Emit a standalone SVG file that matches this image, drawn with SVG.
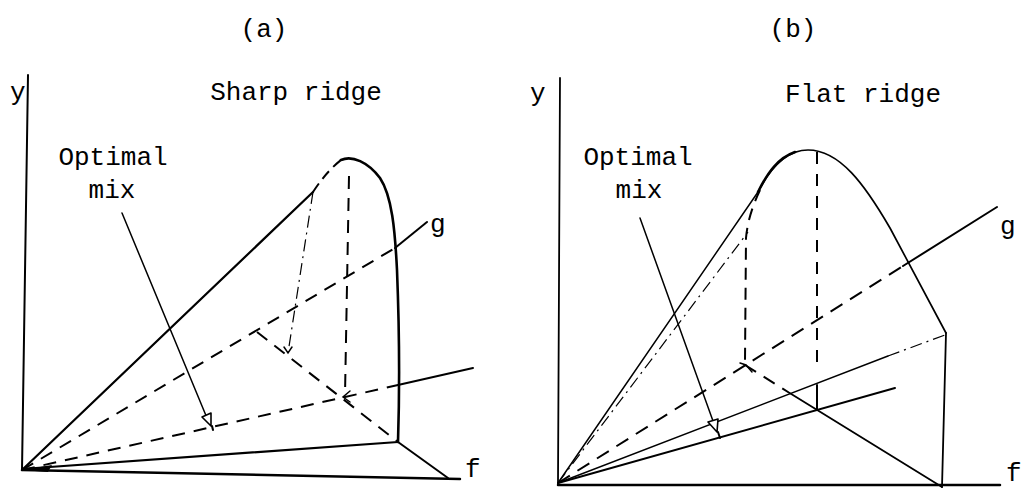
<svg xmlns="http://www.w3.org/2000/svg" width="1027" height="489" viewBox="0 0 1027 489">
<style>
text{font-family:"Liberation Mono","DejaVu Sans Mono",monospace;font-size:26px;fill:#000}
.s{fill:none;stroke:#000;stroke-width:2;stroke-linecap:round}
.t{fill:none;stroke:#000;stroke-width:1.5;stroke-linecap:round}
.d{fill:none;stroke:#000;stroke-width:2;stroke-dasharray:13 9}
.dd{fill:none;stroke:#000;stroke-width:1.2;stroke-dasharray:12 5 2 5}
.ah{fill:#fff;stroke:#000;stroke-width:1.6;stroke-linejoin:round}
</style>
<rect width="1027" height="489" fill="#fff"/>
<g id="panel-a">
  <text x="264" y="37" text-anchor="middle">(a)</text>
  <text x="296" y="100" text-anchor="middle">Sharp ridge</text>
  <text x="10" y="100">y</text>
  <text x="430" y="232">g</text>
  <text x="465" y="477">f</text>
  <g id="label-a">
    <text x="113" y="165" text-anchor="middle">Optimal</text>
    <text x="112" y="198" text-anchor="middle">mix</text>
  </g>
  <g id="axes-a">
    <path class="s" d="M28,75 L22,470"/>
    <path class="s" d="M22,470 L460,479" style="stroke-width:2.5"/>
    <polygon points="22,470 52,465 48,472" fill="#000"/>
  </g>
  <g id="surface-a">
    <path class="s" d="M22,470 L313,192" style="stroke-width:2.2"/>
    <path class="s" d="M22,469 L398,442" style="stroke-width:2.2"/>
    <path class="s" d="M398,442 L448,478"/>
    <path class="s" d="M341,160 C352,155 368,162 380,178 C392,196 395,230 397,270 C399,320 400,380 398,442" style="stroke-width:2.6"/>
    <path class="d" d="M313,192 Q326,172 341,160" style="stroke-dasharray:10 6"/>
    <path class="dd" d="M313,192 L288,353"/>
    <path class="d" d="M349,176 L345,395"/>
    <path class="d" d="M22,470 L395,248"/>
    <path class="s" d="M395,248 L427,222"/>
    <path class="d" d="M22,470 L398,385"/>
    <path class="s" d="M398,385 L473,368"/>
    <path class="d" d="M257,332 L398,442"/>
    <path class="t" d="M284,347 L288,353 L292,347"/>
    <path class="t" d="M350,391 L343,397 L350,402"/>
  </g>
  <g id="connectors-a">
    <path class="t" d="M122,213 L207,418"/>
    <polygon class="ah" points="211,426 211,413 202,417"/>
    <path class="s" d="M212,426 L213,430"/>
  </g>
</g>
<g id="panel-b">
  <text x="793" y="37" text-anchor="middle">(b)</text>
  <text x="863" y="102" text-anchor="middle">Flat ridge</text>
  <text x="530" y="101">y</text>
  <text x="1000" y="234">g</text>
  <text x="1006" y="481">f</text>
  <g id="label-b">
    <text x="638" y="165" text-anchor="middle">Optimal</text>
    <text x="639" y="198" text-anchor="middle">mix</text>
  </g>
  <g id="axes-b">
    <path class="s" d="M560,78 L558,484" style="stroke-width:1.8"/>
    <path class="s" d="M558,485 L1000,485" style="stroke-width:2.5"/>
  </g>
  <g id="surface-b">
    <path class="t" d="M558,483 L758,192"/>
    <path class="dd" d="M558,483 L748,232"/>
    <path class="t" d="M758,192 C772,165 788,150 808,150 C840,150 865,185 890,228 L946,333" style="stroke-width:1.7"/>
    <path class="s" d="M758,192 C768,172 778,158 795,152" style="stroke-width:2.6"/>
    <path class="d" d="M760,190 Q748,215 746,238 L745,362" style="stroke-dasharray:12 8"/>
    <path class="d" d="M817,152 L817,372" style="stroke-dasharray:12 10"/>
    <path class="s" d="M817,385 L817,410"/>
    <path class="d" d="M558,483 L903,266" style="stroke-dasharray:14 9"/>
    <path class="s" d="M903,266 L997,207"/>
    <path class="t" d="M558,483 L888,356"/>
    <path class="dd" d="M888,356 L945,335"/>
    <path class="s" d="M558,483 L895,388"/>
    <path class="d" d="M745,365 L788,392"/>
    <path class="t" d="M788,392 L942,487" style="stroke-width:1.8"/>
    <path class="s" d="M946,333 L942,487" style="stroke-width:1.8"/>
    <path class="t" d="M740,363 L746,365 L752,372"/>
  </g>
  <g id="connectors-b">
    <path class="t" d="M640,218 L713,421"/>
    <polygon class="ah" points="717,432 718,419 708,422"/>
    <path class="s" d="M718,432 L720,438"/>
  </g>
</g>
</svg>
